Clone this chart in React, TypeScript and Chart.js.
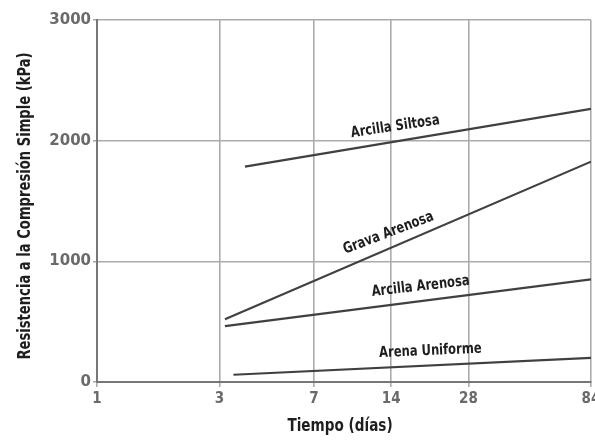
import React, { useEffect, useRef } from "react";
import { Chart, registerables } from "chart.js";

Chart.register(...registerables);

const xTicks = [1, 3, 7, 14, 28, 84];
const yTicks = [0, 1000, 2000, 3000];

const seriesNames = ["Arcilla Siltosa", "Grava Arenosa", "Arcilla Arenosa", "Arena Uniforme"];
const seriesDays = [
  [3.77, 84],
  [3.15, 84],
  [3.15, 84],
  [3.4, 84],
];
const seriesValues = [
  [1785, 2264],
  [520, 1826],
  [463, 851],
  [60, 200],
];
// day at which each label sits along its line
const labelDays = [14.8, 14.3, 18.5, 20];

const FONT = "'DejaVu Sans', Arial, sans-serif";

function condensedText(ctx: any, text: string, x: number, y: number, ang: number, size: number, sx: number, dy: number, baseline: string) {
  ctx.save();
  ctx.translate(x, y);
  ctx.rotate(ang);
  ctx.scale(sx, 1);
  ctx.font = `bold ${size}px ${FONT}`;
  ctx.textAlign = "center";
  ctx.textBaseline = baseline;
  ctx.fillText(text, 0, dy);
  ctx.restore();
}

const labelPlugin = {
  id: "lineLabels",
  afterDatasetsDraw(chart: any) {
    const ctx = chart.ctx;
    const xs = chart.scales.x;
    const ys = chart.scales.y;
    ctx.save();
    ctx.fillStyle = "#1e1e1e";
    seriesNames.forEach((name, i) => {
      const [d0, d1] = seriesDays[i];
      const [v0, v1] = seriesValues[i];
      const x0 = xs.getPixelForValue(d0);
      const x1 = xs.getPixelForValue(d1);
      const y0 = ys.getPixelForValue(v0);
      const y1 = ys.getPixelForValue(v1);
      const ang = Math.atan2(y1 - y0, x1 - x0);
      const lx = xs.getPixelForValue(labelDays[i]);
      const t = (lx - x0) / (x1 - x0);
      const ly = y0 + t * (y1 - y0);
      condensedText(ctx, name, lx, ly, ang * 0.9, 15, 0.77, -7, "bottom");
    });
    // axis titles
    ctx.fillStyle = "#1e1e1e";
    condensedText(ctx, "Tiempo (días)", 340, 427, 0, 17, 0.8, 0, "middle");
    condensedText(ctx, "Resistencia a la Compresión Simple (kPa)", 25, 206, -Math.PI / 2, 18, 0.73, 0, "middle");
    ctx.restore();
  },
};

export default function App() {
  const ref = useRef<HTMLCanvasElement>(null);
  useEffect(() => {
    document.body.style.margin = "0";
    const datasets = seriesNames.map((name, i) => ({
      label: name,
      data: seriesDays[i].map((d, j) => ({ x: d, y: seriesValues[i][j] })),
      borderColor: "#404040",
      borderWidth: 2.2,
      pointRadius: 0,
      fill: false,
      tension: 0,
    }));
    const chart = new Chart(ref.current!, {
      type: "line",
      data: { datasets },
      plugins: [labelPlugin],
      options: {
        animation: false,
        responsive: false,
        layout: { padding: { top: 20, right: 4, left: 0, bottom: 0 } },
        plugins: { legend: { display: false }, tooltip: { enabled: false } },
        scales: {
          x: {
            type: "logarithmic",
            min: 1,
            max: 84,
            afterBuildTicks(scale: any) {
              scale.ticks = xTicks.map((v) => ({ value: v }));
            },
            afterFit(scale: any) {
              scale.height = 61;
              scale.paddingLeft = 0;
              scale.paddingRight = 0;
            },
            ticks: {
              autoSkip: false,
              maxRotation: 0,
              color: "#6a6a6a",
              font: { family: "'DejaVu Sans Condensed', 'DejaVu Sans', sans-serif", size: 15, weight: "bold" },
              padding: 3,
              callback: (v: any) => String(v),
            },
            grid: { color: "#ababab", lineWidth: 1.6, drawTicks: true, tickLength: 5 },
            border: { color: "#777", width: 2 },
          },
          y: {
            type: "linear",
            min: 0,
            max: 3000,
            afterBuildTicks(scale: any) {
              scale.ticks = yTicks.map((v) => ({ value: v }));
            },
            afterFit(scale: any) {
              scale.width = 97;
              scale.paddingTop = 0;
              scale.paddingBottom = 0;
            },
            ticks: {
              color: "#6a6a6a",
              font: { family: FONT, size: 15, weight: "bold" },
              padding: 2,
              callback: (v: any) => String(v),
            },
            grid: { color: "#ababab", lineWidth: 1.6, drawTicks: true, tickLength: 4 },
            border: { color: "#777", width: 2 },
          },
        },
      },
    });
    return () => chart.destroy();
  }, []);
  return (
    <div style={{ position: "absolute", left: 0, top: 0, width: 595, height: 443, background: "#fff" }}>
      <canvas ref={ref} width={595} height={443} />
    </div>
  );
}
